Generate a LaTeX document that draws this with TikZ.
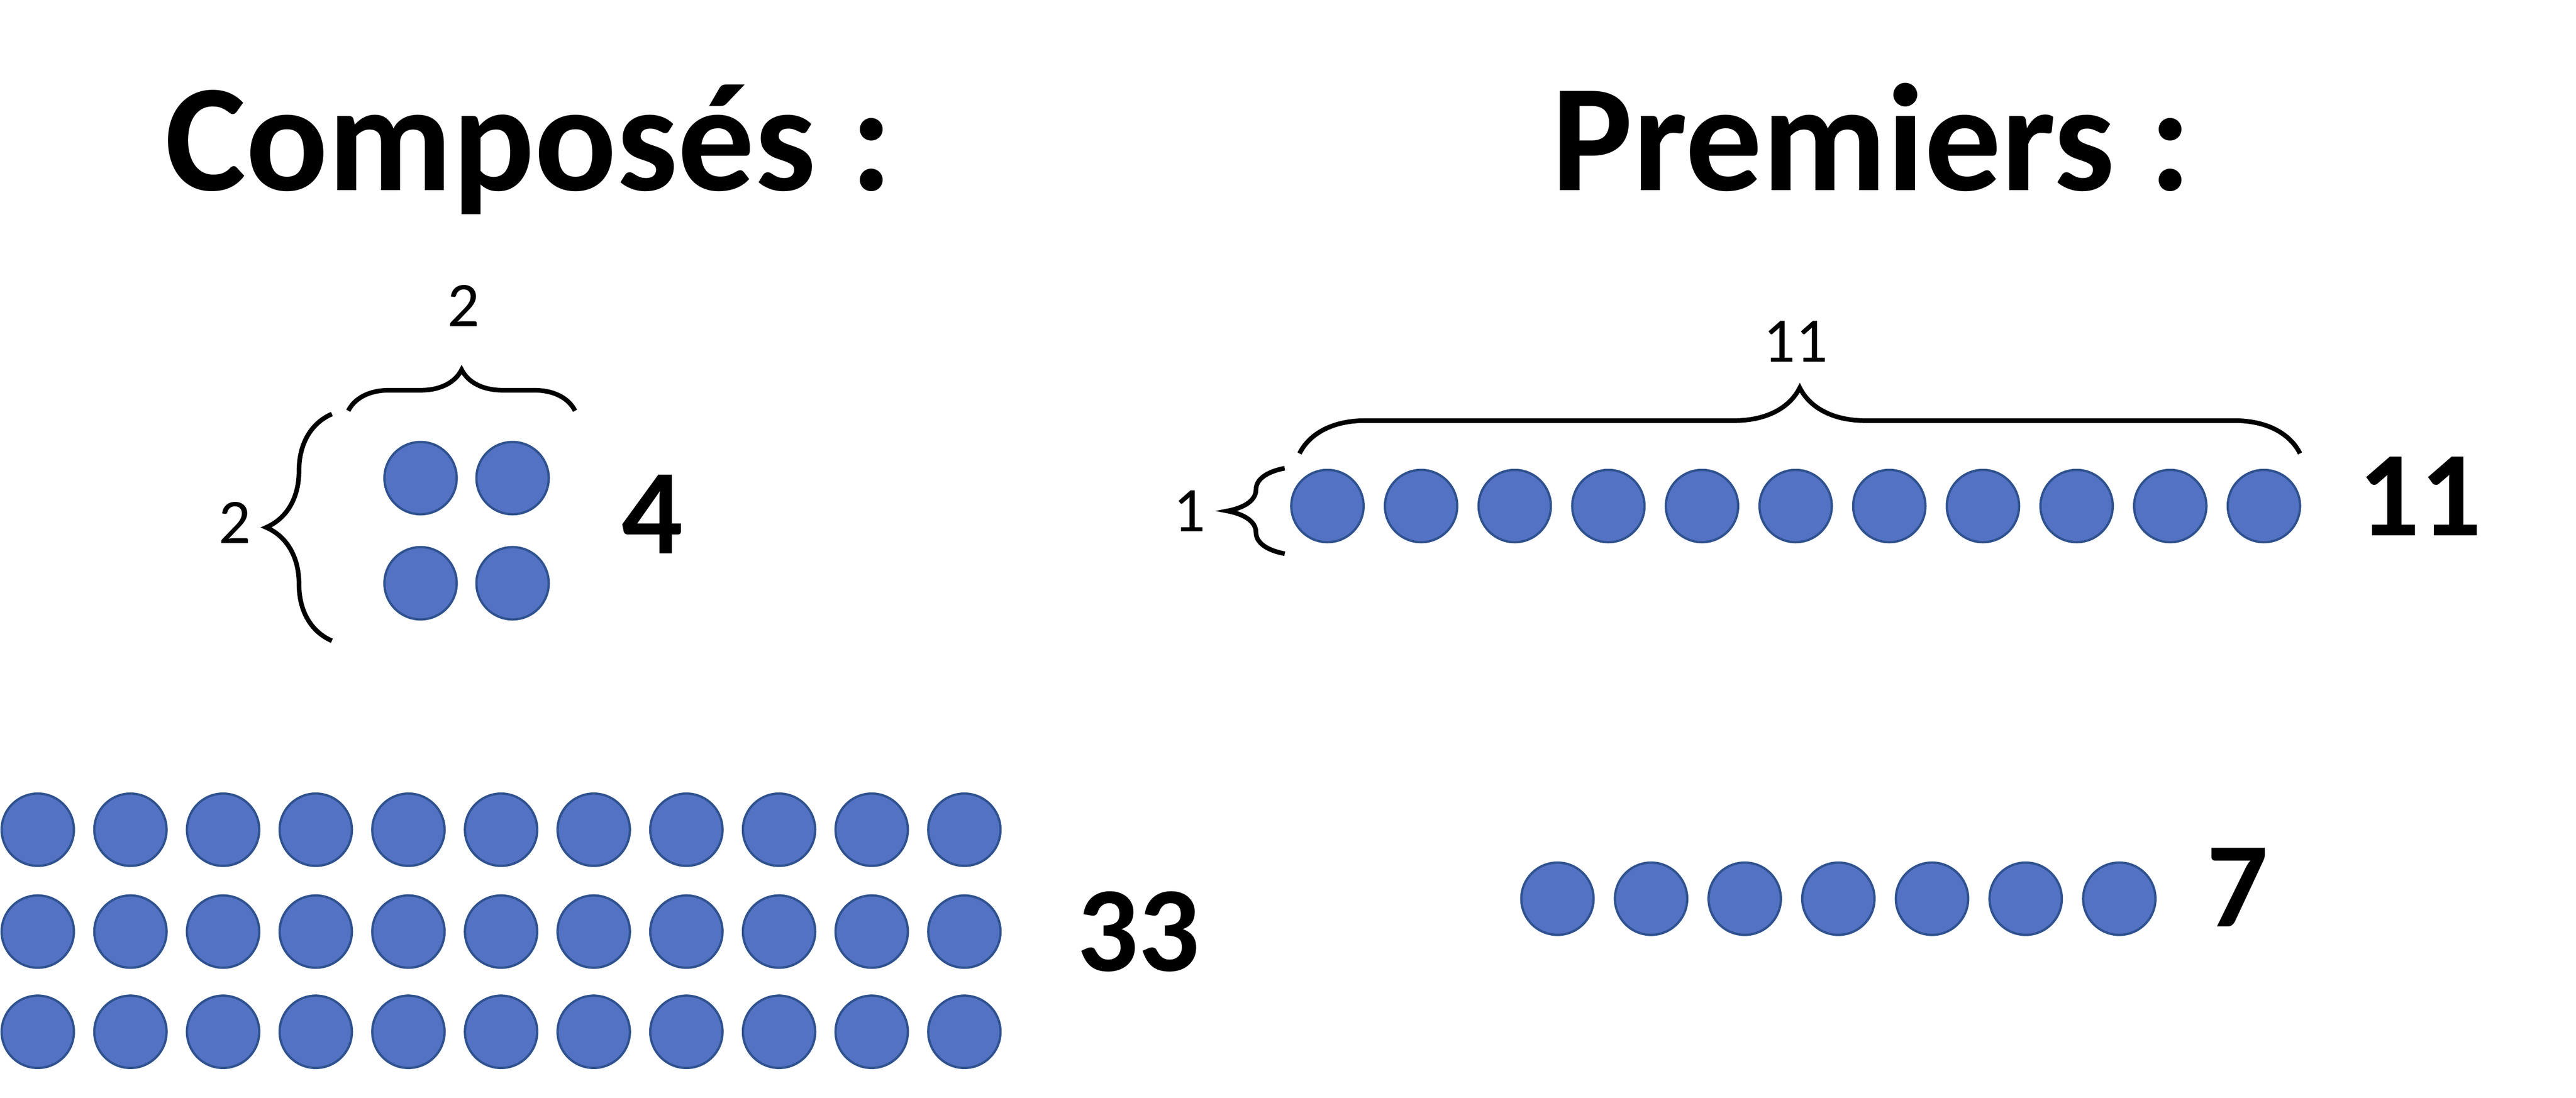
\documentclass[tikz,border=0pt]{standalone}
\usepackage{fontspec}
\setmainfont{Carlito}
\usetikzlibrary{decorations.pathreplacing}
\begin{document}
\begin{tikzpicture}[x=0.02cm,y=-0.02cm,
  dot/.style={circle,minimum size=0.88cm,inner sep=0pt,fill=dotblue,draw=dotedge,line width=0.8pt},
  title/.style={font=\fontsize{53}{60}\selectfont\bfseries,anchor=base west,inner sep=0pt},
  num/.style={font=\fontsize{42}{50}\selectfont\bfseries,inner sep=0pt},
  lab/.style={font=\fontsize{22}{26}\selectfont,inner sep=0pt},
  br/.style={decorate,decoration={brace,amplitude=#1},line width=1.6pt}]
\definecolor{dotblue}{RGB}{84,114,196}
\definecolor{dotedge}{RGB}{47,82,143}
\useasboundingbox[fill=white] (0,0) rectangle (1568,668);
\node[title] (t1) at (100,116) {Composés :};
\node[title] (t2) at (944,116) {Premiers :};
% 4
\foreach \i/\x/\y in {1/256/291,2/312/291,3/256/355,4/312/355}
  \node[dot] (f\i) at (\x,\y) {};
\node[num] (n4) at (397,313) {4};
\coordinate (a1) at (212,250); \coordinate (a2) at (350,250);
\draw[br=0.5cm] (a1) -- (a2);
\node[lab] (l2a) at (282,186) {2};
\coordinate (b1) at (202,390); \coordinate (b2) at (202,252);
\draw[br=0.8cm] (b1) -- (b2);
\node[lab] (l2b) at (143,318) {2};
% 11
\foreach \i in {0,...,10}
  \node[dot] (e\i) at ({808+57*\i},308) {};
\node[num] (n11) at (1473,302) {11};
\coordinate (c1) at (791,276); \coordinate (c2) at (1400,276);
\draw[br=0.8cm] (c1) -- (c2);
\node[lab] (l11) at (1093,208) {11};
\coordinate (d1) at (782,337); \coordinate (d2) at (782,285);
\draw[br=0.7cm] (d1) -- (d2);
\node[lab] (l1) at (724,311) {1};
% 33
\foreach \r/\y in {0/505,1/567,2/628}
  \foreach \i in {0,...,10}
    \node[dot] (g\r\i) at ({23+56.4*\i},\y) {};
\node[num] (n33) at (693,567) {33};
% 7
\foreach \i in {0,...,6}
  \node[dot] (h\i) at ({948+57*\i},547) {};
\node[num] (n7) at (1362,540) {7};
\end{tikzpicture}
\end{document}
